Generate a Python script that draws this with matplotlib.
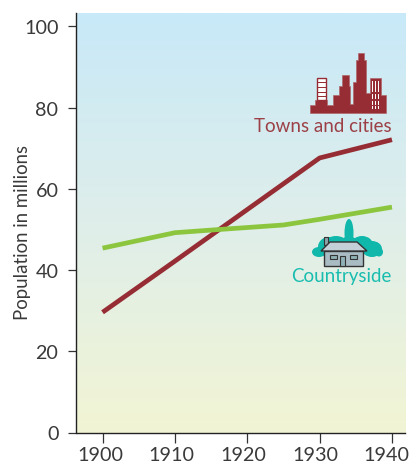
import numpy as np
import matplotlib
matplotlib.use("Agg")
import matplotlib.pyplot as plt
from matplotlib.patches import Polygon, Rectangle, Ellipse
from matplotlib.transforms import Affine2D, ScaledTranslation
from matplotlib.colors import LinearSegmentedColormap

years_towns = [1900, 1910, 1920, 1930, 1940]
towns = [29.6, 42.2, 54.9, 67.6, 72.1]
years_country = [1900, 1910, 1917, 1925, 1930, 1940]
countryside = [45.4, 49.2, 50.1, 51.1, 52.5, 55.5]
x_ticks = [1900, 1910, 1920, 1930, 1940]
y_ticks = [0, 20, 40, 60, 80, 100]

TXT = "#3a3a3a"; RED = "#962d34"; GREEN = "#8cc63f"; TEAL = "#19bdb0"
W, H = 410, 464
plt.rcParams['font.family'] = ['Lato', 'DejaVu Sans']
fig = plt.figure(figsize=(W/100, H/100), dpi=100)
L, R, T, B = 76.5, 405, 14, 433.5
ax = fig.add_axes([L/W, 1-B/H, (R-L)/W, (B-T)/H])
xlim = (1896.4, 1941.8)
ylim = (0, 103.3)
cmap = LinearSegmentedColormap.from_list("bg", ["#c8e9f8", "#dfeeea", "#f2f5d4"])
ax.imshow(np.linspace(0, 1, 256).reshape(-1, 1), cmap=cmap, aspect="auto",
          extent=(*xlim, *ylim), origin="upper", zorder=0)
ax.set_xlim(xlim); ax.set_ylim(ylim)
ax.plot(years_towns, towns, color=RED, lw=3.4, solid_capstyle="butt", zorder=3)
ax.plot(years_country, countryside, color=GREEN, lw=3.4, solid_capstyle="butt", zorder=3)
for s in ("top", "right"):
    ax.spines[s].set_visible(False)
for s in ("left", "bottom"):
    ax.spines[s].set_linewidth(1.0); ax.spines[s].set_color("#222222")
ax.set_xticks(x_ticks); ax.set_yticks(y_ticks)
ax.tick_params(axis="both", length=6, width=0.9, color="#333333", labelcolor=TXT, labelsize=14.2)
ax.tick_params(axis="y", pad=7)
ax.tick_params(axis="x", length=7, pad=3)
fig.canvas.draw()
for lab, dx in zip(ax.get_xticklabels(), (-2.5, -3.2, -4, -4.7, -5.5)):
    lab.set_transform(lab.get_transform() + ScaledTranslation(dx/100, 0, fig.dpi_scale_trans))
fig.text(23/W, 1-232.5/H, "Population in millions", rotation=90, ha="center", va="center",
         color=TXT, fontsize=13.4)
fig.text(392/W, 1-127/H, "Towns and cities", ha="right", va="center", color=RED,
         fontsize=13.5, alpha=.9)
fig.text(392/W, 1-277/H, "Countryside", ha="right", va="center", color=TEAL,
         fontsize=13.5)

# decorative icons, in pixel coordinates of the picture
px = Affine2D().scale(1, -1).translate(0, H)
def add(p):
    p.set_transform(px); p.set_clip_on(False); fig.add_artist(p)
# city
sky = [(310,114),(310,106),(315,106),(315,101),(327,101),(327,106),(333,106),(333,96),(339,96),(339,87),(342,87),
       (342,76),(349,76),(349,87),(350,87),(350,105),(353,105),(353,83),(356,83),(356,61),(358,61),(358,54),(364,54),
       (364,61),(366,61),(366,94),(370,94),(370,79),(381,79),(381,96),(386,96),(386,114)]
add(Polygon(sky, closed=True, fc=RED, ec="#b0666c", lw=0.5, zorder=4))
add(Rectangle((316.5,78.5),9,22.5, fc="white", ec=RED, lw=1, zorder=5))
for y in (83,88,93,97):
    add(Rectangle((316.5,y),9,1, fc=RED, ec="none", zorder=6))
for x in (372,375,378):
    for y0,y1 in ((82,93),(95,100),(102,106),(107,110)):
        add(Rectangle((x,y0),1.2,y1-y0, fc="white", ec="none", zorder=6))
# trees
for cx,cy,w,h in ((329,248,22,20),(319,253,14,10),(349,234,9,28),(349,247,18,20),(362,246,22,18),
                  (372,250,20,16),(379,253,8,9),(336,244,22,14)):
    add(Ellipse((cx,cy),w,h, fc="#0fb8aa", ec="none", zorder=4))
# house
add(Rectangle((324,238),3.5,8, fc="#8fa3a8", ec="#333333", lw=0.8, zorder=5))
add(Rectangle((324,252),39,15, fc="#a9bcc4", ec="#333333", lw=1, zorder=5))
add(Polygon([(321,252),(330,243),(357,243),(367,252)], closed=True, fc="#c3d0d8", ec="#333333", lw=1, zorder=6))
add(Rectangle((330,256),7,4, fc="#8fb0b5", ec="#333333", lw=0.8, zorder=7))
add(Rectangle((350,256),7,4, fc="#8fb0b5", ec="#333333", lw=0.8, zorder=7))
add(Rectangle((340,257),5,10, fc="#8fb0b5", ec="#333333", lw=0.8, zorder=7))
fig.savefig("out.png", dpi=100)
